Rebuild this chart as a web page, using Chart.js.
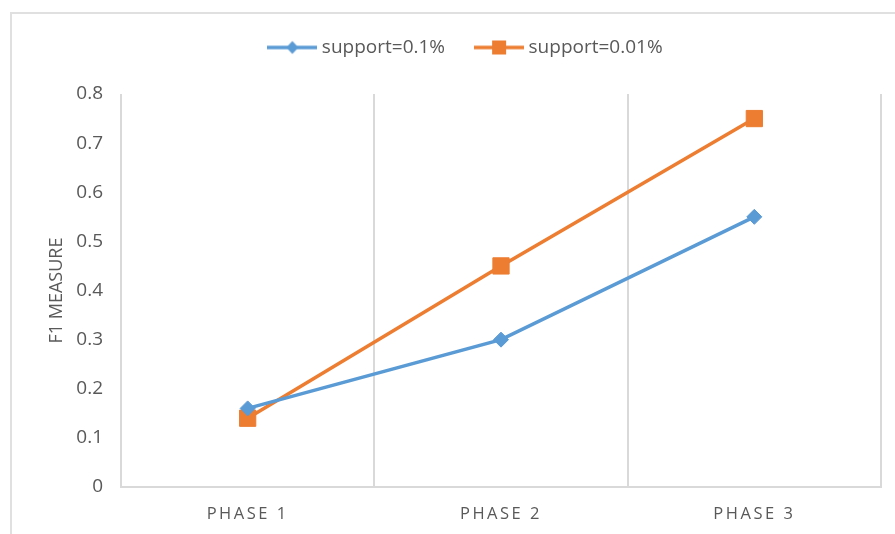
<!DOCTYPE html>
<html>
<head>
<meta charset="utf-8">
<script src="https://cdn.jsdelivr.net/npm/chart.js@4.4.1/dist/chart.umd.min.js"></script>
<style>
  html, body { margin: 0; padding: 0; background: #fff; }
  #wrap { position: relative; width: 895px; height: 534px; overflow: hidden; }
  #frame { position: absolute; left: 10px; top: 12px; width: 900px; height: 540px;
           border-top: 2px solid #e0e0e0; border-left: 2px solid #e0e0e0; }
  #chart { position: absolute; left: 0; top: 0; }
</style>
</head>
<body>
<div id="wrap">
  <div id="frame"></div>
  <canvas id="chart" width="895" height="534"></canvas>
</div>
<script>
const phases = ['PHASE 1', 'PHASE 2', 'PHASE 3'];
const support01 = [0.16, 0.30, 0.55];
const support001 = [0.14, 0.45, 0.75];
const seriesNames = ['support=0.1%', 'support=0.01%'];
const yTicksMax = 0.8;
const yTicksStep = 0.1;

const BLUE = '#5B9BD5';
const ORANGE = '#ED7D31';
const TEXT = '#595959';
const GRID = '#d9d9d9';
const FONT = "'Open Sans', sans-serif";

// 범례용 선+마커 아이콘
function legendIcon(color, shape) {
    const c = document.createElement('canvas');
    c.width = 50;
    c.height = 18;
    const g = c.getContext('2d');
    g.strokeStyle = color;
    g.fillStyle = color;
    g.lineWidth = 3.5;
    g.beginPath();
    g.moveTo(0, 9);
    g.lineTo(50, 9);
    g.stroke();
    g.beginPath();
    if (shape === 'diamond') {
        g.moveTo(25, 2.5); g.lineTo(31, 9); g.lineTo(25, 15.5); g.lineTo(19, 9);
        g.closePath();
        g.fill();
    } else {
        g.fillRect(18, 2, 14, 14);
    }
    return c;
}
const legendIcons = [legendIcon(BLUE, 'diamond'), legendIcon(ORANGE, 'square')];

const layoutTweaks = {
    id: 'layoutTweaks',
    beforeLayout(chart) {
        const legend = chart.legend;
        if (legend && !legend._wrapped) {
            const fit = legend.fit.bind(legend);
            legend.fit = function () {
                fit();
                this.height = 90;
            };
            legend._wrapped = true;
        }
        const xs = chart.scales.x;
        if (xs && !xs._spaced) {
            const drawLabels = xs.drawLabels.bind(xs);
            xs.drawLabels = function (area) {
                const ctx = this.ctx;
                ctx.save();
                ctx.letterSpacing = '2.5px';
                drawLabels(area);
                ctx.restore();
            };
            xs._spaced = true;
        }
    },
    afterLayout(chart) {
        // 원본은 오른쪽이 잘려 있어 범례가 조금 오른쪽에 있음
        const legend = chart.legend;
        if (legend) {
            legend.left += 27;
            legend.right += 27;
        }
    }
};

new Chart(document.getElementById('chart'), {
    type: 'line',
    data: {
        labels: phases,
        datasets: [
            {
                label: seriesNames[0],
                data: support01,
                borderColor: BLUE,
                backgroundColor: BLUE,
                borderWidth: 3.5,
                pointStyle: 'rectRot',
                pointRadius: 7.5,
                pointHoverRadius: 7.5,
                pointBorderWidth: 1,
                tension: 0
            },
            {
                label: seriesNames[1],
                data: support001,
                borderColor: ORANGE,
                backgroundColor: ORANGE,
                borderWidth: 3.5,
                pointStyle: 'rect',
                pointRadius: 11.5,
                pointHoverRadius: 11.5,
                pointBorderWidth: 1,
                tension: 0
            }
        ]
    },
    options: {
        responsive: false,
        animation: false,
        layout: { padding: { top: 4, right: 14, bottom: 0, left: 0 } },
        plugins: {
            tooltip: { enabled: false },
            legend: {
                position: 'top',
                labels: {
                    usePointStyle: true,
                    pointStyleWidth: 40,
                    padding: 34,
                    color: TEXT,
                    font: { family: FONT, size: 19 },
                    generateLabels(chart) {
                        const items = Chart.defaults.plugins.legend.labels.generateLabels(chart);
                        items.forEach((item, i) => { item.pointStyle = legendIcons[i]; });
                        return items;
                    }
                }
            }
        },
        scales: {
            x: {
                offset: true,
                grid: { offset: true, color: GRID, lineWidth: 2, drawTicks: false },
                border: { color: GRID, width: 2 },
                ticks: {
                    color: TEXT,
                    font: { family: FONT, size: 16.5 },
                    padding: 17,
                    maxRotation: 0
                },
                afterFit(scale) { scale.height = 47; }
            },
            y: {
                min: 0,
                max: yTicksMax,
                grid: { display: false },
                border: { display: false },
                ticks: {
                    stepSize: yTicksStep,
                    color: TEXT,
                    font: { family: FONT, size: 19 },
                    padding: 10,
                    callback: v => v === 0 ? '0' : v.toFixed(1)
                },
                title: {
                    display: true,
                    text: 'F1 MEASURE',
                    color: TEXT,
                    font: { family: FONT, size: 18 },
                    padding: { top: 46, bottom: 0 }
                },
                afterFit(scale) { scale.width = 121; }
            }
        }
    },
    plugins: [layoutTweaks]
});
</script>
</body>
</html>
